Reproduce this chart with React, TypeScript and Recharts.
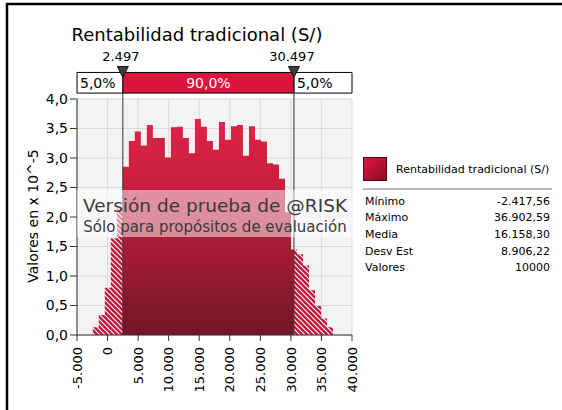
import React from 'react';
import {
  ComposedChart,
  Area,
  XAxis,
  YAxis,
  CartesianGrid,
  ReferenceLine,
  ReferenceArea,
  ReferenceDot,
} from 'recharts';

const FONT = '"DejaVu Sans", Verdana, sans-serif';

// ---- data ----
const title = 'Rentabilidad tradicional (S/)';
const simMin = -2417.56;
const simMax = 36902.59;
const binCount = 40;
// density values (x 10^-5), one per bin, from simMin to simMax
const binHeights = [
  0.13, 0.34, 0.8, 1.64, 2.15, 2.85, 3.29, 3.45, 3.21, 3.56,
  3.34, 3.34, 3.01, 3.52, 3.53, 3.34, 3.08, 3.66, 3.53, 3.29,
  3.14, 3.61, 3.31, 3.54, 3.56, 3.04, 3.54, 3.31, 3.28, 2.91,
  2.89, 2.65, 2.08, 1.45, 1.37, 1.18, 0.76, 0.49, 0.28, 0.13,
];
const delimiters = [2497, 30497];
const delimiterLabels = ['2.497', '30.497'];
const regionLabels = ['5,0%', '90,0%', '5,0%'];
const xTicks = [-5000, 0, 5000, 10000, 15000, 20000, 25000, 30000, 35000, 40000];
const yTicks = [0, 0.5, 1, 1.5, 2, 2.5, 3, 3.5, 4];
const statLabels = ['Mínimo', 'Máximo', 'Media', 'Desv Est', 'Valores'];
const statValues = ['-2.417,56', '36.902,59', '16.158,30', '8.906,22', '10000'];
const yAxisTitle = 'Valores en x 10^-5';
const watermark1 = 'Versión de prueba de @RISK';
const watermark2 = 'Sólo para propósitos de evaluación';

// ---- derived table ----
const binWidth = (simMax - simMin) / binCount;
const edges = Array.from({ length: binCount + 1 }, (_, k) => simMin + k * binWidth);
const [d1, d2] = delimiters;
const heightAt = (x: number) => {
  if (x >= simMax - 1e-6) return 0;
  const k = Math.min(binCount - 1, Math.floor((x - simMin) / binWidth + 1e-9));
  return binHeights[k];
};
const xs = Array.from(new Set([...edges, d1, d2])).sort((a, b) => a - b);
const rows = xs.map((x) => ({
  x,
  left: x <= d1 ? (x < d1 ? heightAt(x) : 0) : null,
  mid: x >= d1 && x <= d2 ? (x < d2 ? heightAt(x) : 0) : null,
  right: x >= d2 ? heightAt(x) : null,
}));

const X_MIN = xTicks[0];
const X_MAX = xTicks[xTicks.length - 1];
const BOX_TOP = 4.45;
const BOX_BOTTOM = 4.1;

const fmtX = (v: number) => {
  if (v === 0) return '0';
  const s = Math.abs(v)
    .toString()
    .replace(/\B(?=(\d{3})+(?!\d))/g, '.');
  return (v < 0 ? '-' : '') + s;
};
const fmtY = (v: number) => v.toFixed(1).replace('.', ',');

const XTick = (props: any) => {
  const { x, y, payload } = props;
  const ty = y + 4;
  return (
    <text
      x={x}
      y={ty}
      transform={`rotate(-90 ${x} ${ty})`}
      textAnchor="end"
      dy="0.36em"
      fontSize={13}
      fontFamily={FONT}
      fill="#000"
    >
      {fmtX(payload.value)}
    </text>
  );
};

const makeMarker = (label: string) => (p: any) => {
  const { cx, cy } = p;
  return (
    <g>
      <path
        d={`M${cx - 5.5},${cy - 6} L${cx + 5.5},${cy - 6} L${cx},${cy + 5} Z`}
        fill="#3c3c3c"
        stroke="#111"
        strokeWidth={1}
      />
      <text x={cx - 2} y={cy - 11} textAnchor="middle" fontSize={13} fontFamily={FONT} fill="#000">
        {label}
      </text>
    </g>
  );
};

export default function App() {
  return (
    <div style={{ position: 'absolute', left: 0, top: 0, width: 562, height: 410, background: '#fff' }}>
      <svg width={0} height={0} style={{ position: 'absolute' }}>
        <defs>
          <linearGradient id="solidGrad" x1="0" y1="0" x2="0" y2="1">
            <stop offset="0%" stopColor="#e0173f" />
            <stop offset="45%" stopColor="#b8122f" />
            <stop offset="100%" stopColor="#6a0b1d" />
          </linearGradient>
          <linearGradient id="swatchGrad" x1="0" y1="0" x2="1" y2="1">
            <stop offset="0%" stopColor="#e0173f" />
            <stop offset="100%" stopColor="#8a0c22" />
          </linearGradient>
          <pattern id="hatch" width="5" height="5" patternUnits="userSpaceOnUse">
            <rect width="5" height="5" fill="#c4123a" />
            <path d="M-1,-1 L6,6 M-1,4 L1,6 M4,-1 L6,1" stroke="#ffffff" strokeWidth={1.2} />
          </pattern>
        </defs>
      </svg>
      <ComposedChart
        width={562}
        height={410}
        data={rows}
        margin={{ top: 99, right: 210, bottom: 0, left: 0 }}
      >
        <CartesianGrid fill="#f3f3f3" stroke="#d9d9d9" />
        <XAxis
          dataKey="x"
          type="number"
          domain={[X_MIN, X_MAX]}
          ticks={xTicks}
          interval={0}
          height={75}
          tick={<XTick />}
          tickSize={6}
          axisLine={{ stroke: '#333' }}
          tickLine={{ stroke: '#333' }}
          allowDataOverflow
        />
        <YAxis
          type="number"
          domain={[0, 4]}
          ticks={yTicks}
          interval={0}
          width={77}
          tickFormatter={fmtY}
          tickSize={7}
          tick={{ fontSize: 14, fontFamily: FONT, fill: '#000' }}
          axisLine={{ stroke: '#333' }}
          tickLine={{ stroke: '#333' }}
          allowDataOverflow
        />
        <Area
          dataKey="left"
          type="stepAfter"
          stroke="none"
          fill="url(#hatch)"
          fillOpacity={1}
          isAnimationActive={false}
          dot={false}
          activeDot={false}
        />
        <Area
          dataKey="mid"
          type="stepAfter"
          stroke="none"
          fill="url(#solidGrad)"
          fillOpacity={0.95}
          isAnimationActive={false}
          dot={false}
          activeDot={false}
        />
        <Area
          dataKey="right"
          type="stepAfter"
          stroke="none"
          fill="url(#hatch)"
          fillOpacity={1}
          isAnimationActive={false}
          dot={false}
          activeDot={false}
        />
        <ReferenceArea
          x1={X_MIN}
          x2={d1}
          y1={BOX_BOTTOM}
          y2={BOX_TOP}
          ifOverflow="visible"
          fill="#fff"
          fillOpacity={1}
          stroke="#000"
          label={{ value: regionLabels[0], position: 'insideLeft', offset: 3, fontSize: 14, fontFamily: FONT, fill: '#000' }}
        />
        <ReferenceArea
          x1={d1}
          x2={d2}
          y1={BOX_BOTTOM}
          y2={BOX_TOP}
          ifOverflow="visible"
          fill="#dc143c"
          fillOpacity={1}
          stroke="#000"
          label={{ value: regionLabels[1], position: 'center', fontSize: 14, fontFamily: FONT, fill: '#fff' }}
        />
        <ReferenceArea
          x1={d2}
          x2={X_MAX}
          y1={BOX_BOTTOM}
          y2={BOX_TOP}
          ifOverflow="visible"
          fill="#fff"
          fillOpacity={1}
          stroke="#000"
          label={{ value: regionLabels[2], position: 'insideLeft', offset: 3, fontSize: 14, fontFamily: FONT, fill: '#000' }}
        />
        {delimiters.map((d, i) => (
          <ReferenceLine
            key={'l' + i}
            segment={[
              { x: d, y: 0 },
              { x: d, y: BOX_TOP },
            ]}
            ifOverflow="visible"
            stroke="#333"
            strokeWidth={1}
          />
        ))}
        {delimiters.map((d, i) => (
          <ReferenceDot
            key={'m' + i}
            x={d}
            y={BOX_TOP}
            r={5}
            ifOverflow="visible"
            shape={makeMarker(delimiterLabels[i])}
          />
        ))}
      </ComposedChart>
      <svg
        width={562}
        height={410}
        style={{ position: 'absolute', left: 0, top: 0, pointerEvents: 'none' }}
        fontFamily={FONT}
      >
        <path d="M7,410 V4 H562" fill="none" stroke="#000" strokeWidth={2.5} />
        <text x={197} y={40.5} textAnchor="middle" fontSize={18} fill="#000">
          {title}
        </text>
        <text x={33} y={216} transform="rotate(-90 33 216)" textAnchor="middle" dy="0.36em" fontSize={14} fill="#000">
          {yAxisTitle}
        </text>
        {/* watermark */}
        <rect x={77} y={190} width={276} height={47} fill="#fff" fillOpacity={0.5} />
        <text x={215} y={205} textAnchor="middle" dy="0.36em" fontSize={18.5} fill="#3a3a3a">
          {watermark1}
        </text>
        <text x={215} y={227} textAnchor="middle" dy="0.36em" fontSize={15} fill="#3a3a3a">
          {watermark2}
        </text>
        {/* legend */}
        <rect x={363.5} y={157.5} width={23} height={23} fill="url(#swatchGrad)" stroke="#4a0612" />
        <text x={396} y={169.5} dy="0.36em" fontSize={11} fill="#000">
          {title}
        </text>
        <line x1={363} x2={552} y1={189} y2={189} stroke="#b8b8b8" strokeWidth={2} />
        {statLabels.map((l, i) => (
          <g key={l}>
            <text x={365} y={200.7 + i * 16.7} dy="0.36em" fontSize={11} fill="#000">
              {l}
            </text>
            <text x={550} y={200.7 + i * 16.7} dy="0.36em" fontSize={11} fill="#000" textAnchor="end">
              {statValues[i]}
            </text>
          </g>
        ))}
      </svg>
    </div>
  );
}
